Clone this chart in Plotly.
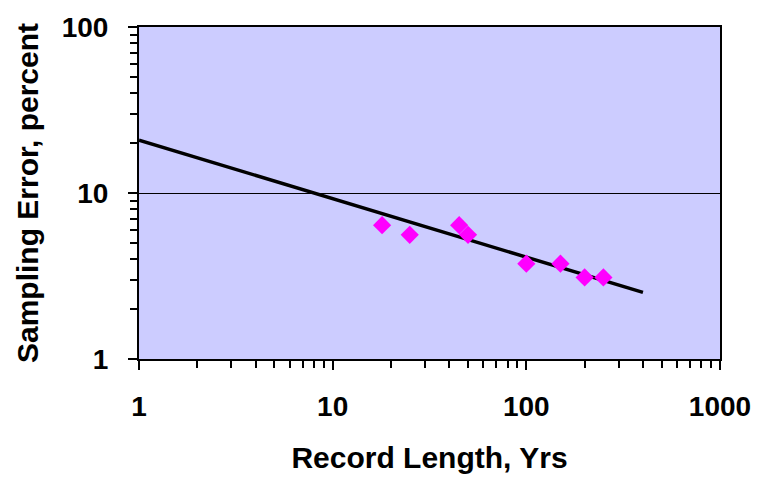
import plotly.graph_objects as go

# Data
record_length_yrs = [18, 25, 45, 50, 100, 150, 200, 250]
sampling_error_pct = [6.4, 5.6, 6.4, 5.6, 3.75, 3.75, 3.1, 3.1]

fit_x = [1, 400]
fit_y = [20.8, 2.52]

x_tick_vals = [1, 10, 100, 1000]
x_tick_labels = ["1", "10", "100", "1000"]
y_tick_vals = [1, 10, 100]
y_tick_labels = ["1", "10", "100"]

x_minor = [m * 10 ** d for d in range(3) for m in range(2, 10)]
y_minor = [m * 10 ** d for d in range(2) for m in range(2, 10)]

FONT = "Liberation Sans, Arial, sans-serif"

fig = go.Figure()
fig.add_trace(go.Scatter(
    x=fit_x, y=fit_y, mode="lines",
    line=dict(color="black", width=3.5),
    showlegend=False, hoverinfo="skip",
))
fig.add_trace(go.Scatter(
    x=record_length_yrs, y=sampling_error_pct, mode="markers",
    marker=dict(symbol="diamond", size=14, color="#FF00FF", line=dict(width=0)),
    showlegend=False,
))

axis_common = dict(
    type="log",
    showline=True, linecolor="black", linewidth=2, mirror=True,
    ticks="outside", ticklen=9, tickwidth=1.5, tickcolor="black",
    tickfont=dict(family=FONT, size=28, color="black", weight="bold"),
    zeroline=False,
)

fig.update_xaxes(
    **axis_common,
    range=[0, 3],
    tickmode="array", tickvals=x_tick_vals, ticktext=x_tick_labels,
    showgrid=False,
    ticklabelstandoff=12,
    minor=dict(ticks="outside", ticklen=7, tickwidth=1.5, tickcolor="black",
               tickmode="array", tickvals=x_minor, showgrid=False),
    title=dict(text="Record Length, Yrs", standoff=26,
               font=dict(family=FONT, size=30, color="black", weight="bold")),
)
fig.update_yaxes(
    **axis_common,
    range=[0, 2],
    tickmode="array", tickvals=y_tick_vals, ticktext=y_tick_labels,
    showgrid=True, gridcolor="black", gridwidth=1,
    ticklabelstandoff=14,
    minor=dict(ticks="outside", ticklen=7, tickwidth=1.5, tickcolor="black",
               tickmode="array", tickvals=y_minor, showgrid=False),
    title=dict(text="Sampling Error, percent", standoff=14,
               font=dict(family=FONT, size=30, color="black", weight="bold")),
)

fig.update_layout(
    width=763, height=481,
    margin=dict(l=139, r=37, t=26, b=121),
    plot_bgcolor="#CCCCFF",
    paper_bgcolor="white",
)

fig.write_html("out.html")
